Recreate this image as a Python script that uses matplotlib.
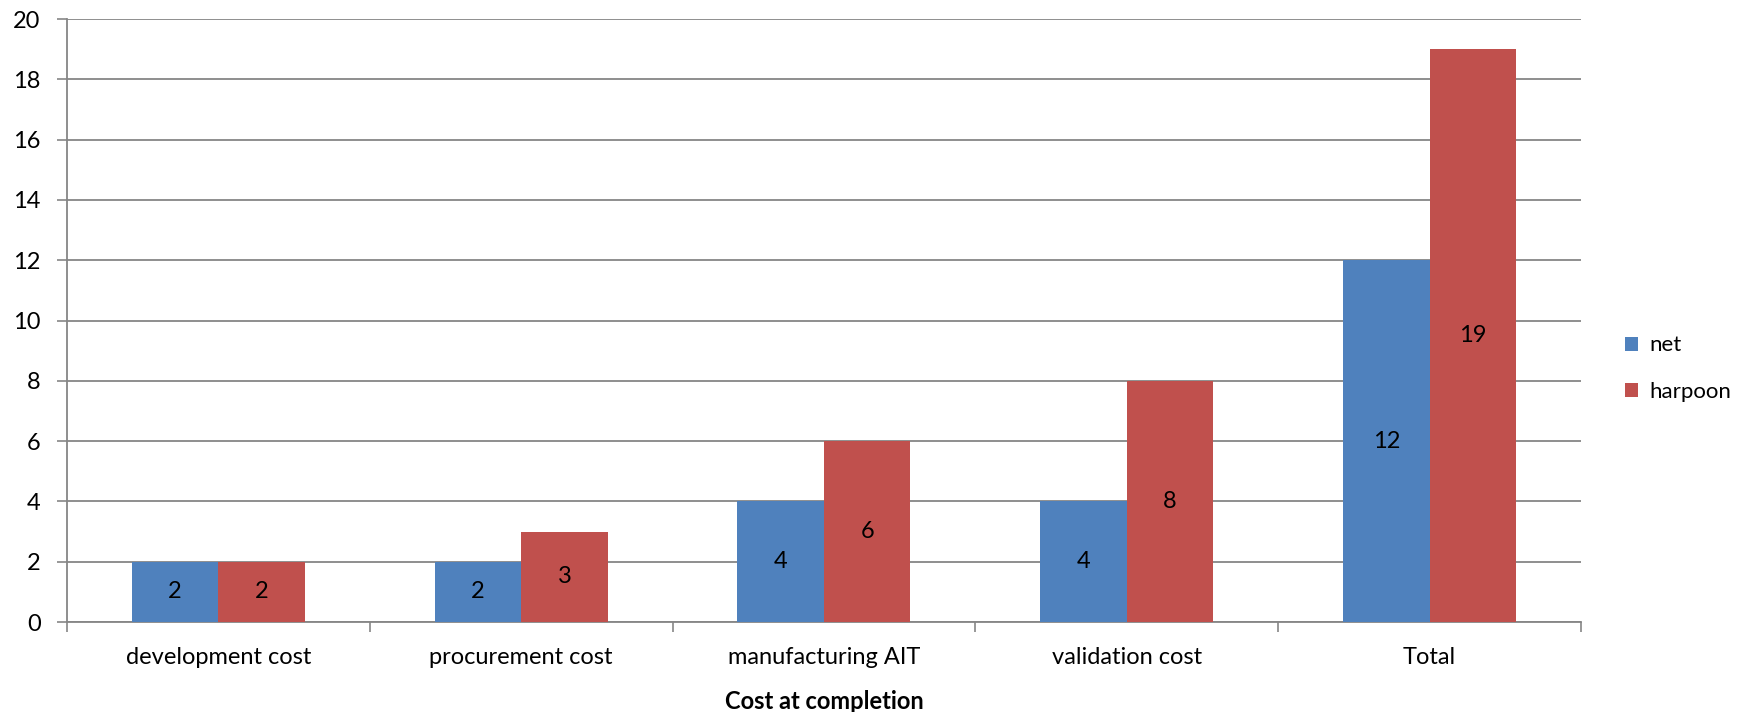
import numpy as np
import matplotlib.pyplot as plt

plt.rcParams['font.family'] = ['Lato', 'DejaVu Sans']

categories = ['development cost', 'procurement cost', 'manufacturing AIT',
              'validation cost', 'Total']
net = [2, 2, 4, 4, 12]
harpoon = [2, 3, 6, 8, 19]

fig = plt.figure(figsize=(17.5, 7.12), dpi=100)
ax = fig.add_axes([0.0383, 0.1264, 0.8651, 0.8469])

x = np.arange(len(categories))
w = 0.2857
b1 = ax.bar(x - w / 2, net, w, color='#4F81BD', label='net', zorder=3)
b2 = ax.bar(x + w / 2, harpoon, w, color='#C0504D', label='harpoon', zorder=3)

for bars in (b1, b2):
    ax.bar_label(bars, label_type='center', fontsize=17, color='black')

ax.set_xlim(-0.5, len(categories) - 0.5)
ax.set_ylim(0, 20)
ax.set_yticks(range(0, 21, 2))
ax.set_xticks(x)
ax.set_xticklabels(categories, fontsize=17)
ax.set_xticks(np.arange(-0.5, len(categories), 1), minor=True)
ax.tick_params(axis='x', which='major', length=0, pad=18)
ax.tick_params(axis='x', which='minor', length=7, color='#868686', width=1.2)
ax.tick_params(axis='y', labelsize=17, length=7, color='#868686', width=1.2, pad=12)

ax.yaxis.grid(True, color='#868686', linewidth=1.3, zorder=0)
for side in ['top', 'right']:
    ax.spines[side].set_visible(False)
for side in ['left', 'bottom']:
    ax.spines[side].set_color('#868686')
    ax.spines[side].set_linewidth(1.3)

ax.set_xlabel('Cost at completion', fontsize=17, fontweight='bold', labelpad=16)

ax.legend(loc='center left', bbox_to_anchor=(1.029, 0.42), frameon=False,
          fontsize=16, handlelength=0.6, handleheight=0.6, labelspacing=1.2,
          handletextpad=0.5, borderpad=0, borderaxespad=0)

fig.savefig('out.png', dpi=100)
